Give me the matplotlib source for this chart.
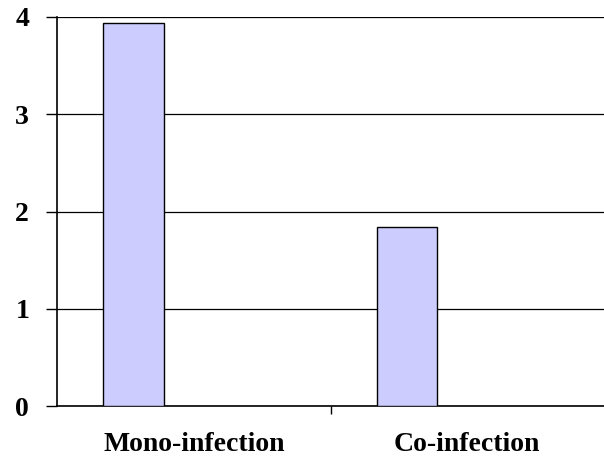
import matplotlib.pyplot as plt
import numpy as np

categories = ['Mono-infection', 'Co-infection']
values = [3.94, 1.84]
y_ticks = [0, 1, 2, 3, 4]

plt.rcParams['font.family'] = ['Liberation Serif', 'DejaVu Serif']

fig = plt.figure(figsize=(6.04, 4.57), dpi=100)
ax = fig.add_axes([57 / 604, 51 / 457, 547 / 604, 389 / 457])

x = np.arange(len(categories))
ax.bar(x - 0.22, values, width=0.22, color='#ccccff', edgecolor='black',
       linewidth=1.0, zorder=3)

ax.set_xlim(-0.5, 1.5)
ax.set_ylim(0, 4)
ax.set_yticks(y_ticks)
ax.set_yticklabels([str(t) for t in y_ticks], fontsize=20, fontweight='bold')
ax.yaxis.grid(True, color='black', linewidth=0.9, zorder=0)

ax.set_xticks(x)
ax.set_xticklabels(categories, fontsize=20, fontweight='bold')
ax.set_xticks([0.5], minor=True)
ax.tick_params(axis='x', which='major', length=0, pad=19)
ax.tick_params(axis='x', which='minor', length=6, width=1, color='black')
ax.tick_params(axis='y', length=8, width=1, pad=12)

for s in ['top', 'right']:
    ax.spines[s].set_visible(False)
ax.spines['left'].set_linewidth(1.2)
ax.spines['bottom'].set_linewidth(1.2)

fig.savefig('out.png', dpi=100)
